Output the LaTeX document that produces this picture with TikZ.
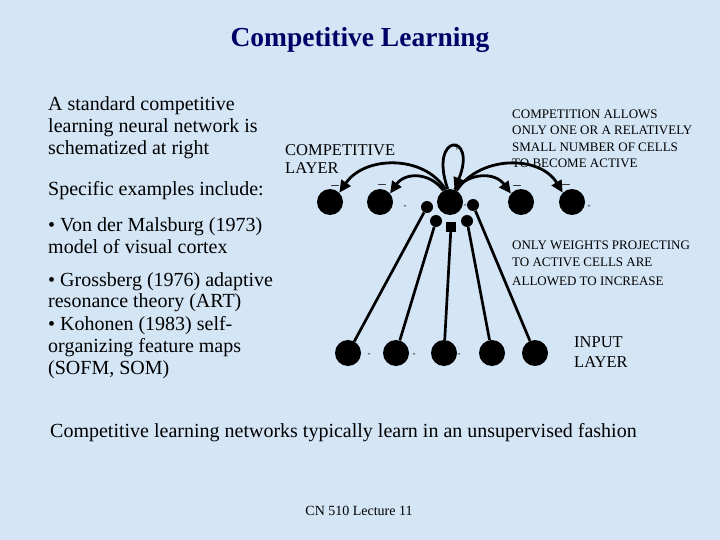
\documentclass[tikz,border=0pt]{standalone}
\usepackage{fontspec}
\setmainfont{Liberation Serif}
\usetikzlibrary{arrows.meta}
\definecolor{bgblue}{RGB}{212,229,246}
\definecolor{navy}{RGB}{0,0,102}
\tikzset{
  cell/.style={circle,fill=black,inner sep=0pt,minimum size=26pt},
  dotend/.style={circle,fill=black,inner sep=0pt,minimum size=12pt},
  wline/.style={line width=2.7pt},
  inhib/.style={line width=2.8pt,-{Triangle[length=12pt,width=11pt]}},
  body/.style={anchor=base west,font=\fontsize{20}{22}\selectfont,inner sep=0pt},
  caps/.style={anchor=base west,font=\fontsize{13}{14}\selectfont,inner sep=0pt},
  capsb/.style={anchor=base west,font=\fontsize{16.5}{17}\selectfont,inner sep=0pt},
  tiny/.style={font=\fontsize{9}{9}\selectfont,inner sep=0pt},
  bar/.style={font=\fontsize{15}{15}\selectfont,inner sep=0pt,text height=1pt,text depth=0pt}
}
\begin{document}
\begin{tikzpicture}[x=1pt,y=-1pt]
\fill[bgblue] (0,0) rectangle (720,540);
\useasboundingbox (0,0) rectangle (720,540);
% title
\node[anchor=base,font=\fontsize{27.5}{30}\selectfont\bfseries,text=navy,inner sep=0pt] (title) at (360,47) {Competitive Learning};
% left text
\node[body] (l1) at (48,111) {A standard competitive};
\node[body] (l2) at (48,133) {learning neural network is};
\node[body] (l3) at (48,155) {schematized at right};
\node[body] (l4) at (48,196) {Specific examples include:};
\node[body] (l5) at (48,232) {• Von der Malsburg (1973)};
\node[body] (l6) at (48,254) {model of visual cortex};
\node[body] (l7) at (48,286) {• Grossberg (1976) adaptive};
\node[body] (l8) at (48,307) {resonance theory (ART)};
\node[body] (l9) at (48,330) {• Kohonen (1983) self-};
\node[body] (l10) at (48,352) {organizing feature maps};
\node[body] (l11) at (48,374) {(SOFM, SOM)};
% bottom
\node[body] (bt) at (50,437) {Competitive learning networks typically learn in an unsupervised fashion};
\node[anchor=base,font=\fontsize{14}{16}\selectfont,inner sep=0pt] (foot) at (359,515) {CN 510 Lecture 11};
% labels
\node[capsb] (cl1) at (285,156) {COMPETITIVE};
\node[capsb] (cl2) at (285,174) {LAYER};
\node[caps] (c1) at (512,119) {COMPETITION ALLOWS};
\node[caps] (c2) at (512,135) {ONLY ONE OR A RELATIVELY};
\node[caps] (c3) at (512,152) {SMALL NUMBER OF CELLS};
\node[caps] (c4) at (512,168) {TO BECOME ACTIVE};
\node[caps] (w1) at (512,249) {ONLY WEIGHTS PROJECTING};
\node[caps] (w2) at (512,266) {TO ACTIVE CELLS ARE};
\node[caps] (w3) at (512,285) {ALLOWED TO INCREASE};
\node[capsb] (i1) at (574,347) {INPUT};
\node[capsb] (i2) at (574,367) {LAYER};
% competitive layer
\node[cell] (t1) at (330,202) {};
\node[cell] (t2) at (380,202) {};
\node[cell] (t3) at (450,202) {};
\node[cell] (t4) at (521,202) {};
\node[cell] (t5) at (572,202) {};
% input layer
\node[cell] (b1) at (348,353) {};
\node[cell] (b2) at (396,353) {};
\node[cell] (b3) at (444,353) {};
\node[cell] (b4) at (492,353) {};
\node[cell] (b5) at (535,353) {};
% synapse ends
\node[dotend] (d1) at (427,207) {};
\node[dotend] (d2) at (436,221) {};
\node[dotend,rectangle,minimum size=10pt] (d3) at (451,227) {};
\node[dotend] (d4) at (467,221) {};
\node[dotend] (d5) at (473,205) {};
\draw[wline] (b1) -- (d1);
\draw[wline] (b2) -- (d2);
\draw[wline] (b3) -- (d3);
\draw[wline] (b4) -- (d4);
\draw[wline] (b5) -- (d5);
% lateral connections
\draw[inhib] (t3.110) .. controls (425,155) and (365,155) .. (t1.45);
\draw[inhib] (t3.120) .. controls (430,172) and (405,172) .. (t2.40);
\draw[inhib] (t3.100) .. controls (428,132) and (478,132) .. (t3.70);
\draw[inhib] (t3.70) .. controls (470,172) and (495,172) .. (t4.140);
\draw[inhib] (t3.60) .. controls (480,155) and (540,155) .. (t5.135);
% signs
\node[bar] (s1) at (335,189) {–};
\node[bar] (s2) at (382,188) {–};
\node[bar] (s4) at (517,189) {–};
\node[bar] (s5) at (566,188) {–};
\node[font=\fontsize{13}{13}\selectfont,inner sep=0pt] (plus) at (457,148) {+};
\node[tiny] (m1) at (405,207) {-};
\node[tiny] (m2) at (465,206) {-};
\node[tiny] (m3) at (589,207) {-};
\node[tiny] (m4) at (369,355) {-};
\node[tiny] (m5) at (414,355) {-};
\node[tiny] (m6) at (459,355) {-};
\end{tikzpicture}
\end{document}
